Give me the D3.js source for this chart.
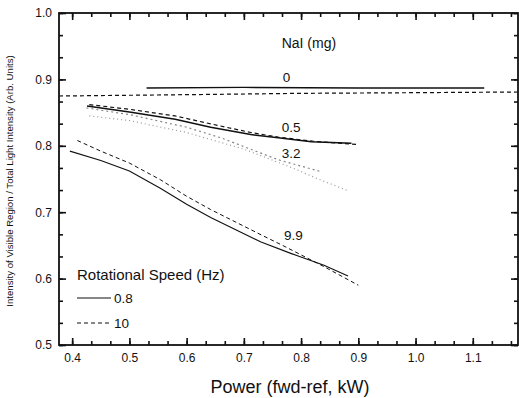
<!DOCTYPE html>
<html>
<head>
<meta charset="utf-8">
<script src="https://cdn.jsdelivr.net/npm/d3@7"></script>
<style>
  body { margin: 0; background: #fff; }
  text { font-family: "Liberation Sans", Arial, sans-serif; fill: #111; }
</style>
</head>
<body>
<svg id="chart" width="519" height="398"></svg>
<script>
// data: [power kW, intensity ratio]
const naI0_slow = [[0.53, 0.887], [0.7, 0.888], [0.9, 0.887], [1.12, 0.887]];
const naI0_fast = [[0.377, 0.875], [0.6, 0.877], [0.8, 0.879], [1.0, 0.880], [1.179, 0.881]];
const naI05_slow = [[0.426, 0.860], [0.5, 0.851], [0.58, 0.840], [0.642, 0.828], [0.712, 0.817], [0.76, 0.812], [0.818, 0.806], [0.888, 0.804]];
const naI05_fast = [[0.43, 0.862], [0.5, 0.855], [0.58, 0.845], [0.642, 0.833], [0.712, 0.820], [0.76, 0.813], [0.82, 0.807], [0.896, 0.802]];
const naI32_slow = [[0.43, 0.845], [0.5, 0.838], [0.6, 0.820], [0.7, 0.795], [0.79, 0.765], [0.83, 0.750], [0.88, 0.733]];
const naI32_fast = [[0.425, 0.857], [0.5, 0.847], [0.6, 0.828], [0.66, 0.812], [0.76, 0.779], [0.835, 0.761]];
const naI99_slow = [[0.396, 0.792], [0.45, 0.778], [0.5, 0.762], [0.554, 0.736], [0.6, 0.712], [0.642, 0.692], [0.73, 0.655], [0.782, 0.638], [0.84, 0.620], [0.882, 0.604]];
const naI99_fast = [[0.409, 0.808], [0.45, 0.792], [0.5, 0.774], [0.554, 0.749], [0.6, 0.724], [0.642, 0.704], [0.73, 0.666], [0.77, 0.649], [0.84, 0.618], [0.9, 0.590]];

const xMajor = [0.4, 0.5, 0.6, 0.7, 0.8, 0.9, 1.0, 1.1];
const yMajor = [0.5, 0.6, 0.7, 0.8, 0.9, 1.0];
const curveLabels = ['0', '0.5', '3.2', '9.9'];
const speeds = ['0.8', '10'];

const svg = d3.select('#chart');
const plotL = 59, plotR = 518, plotT = 13, plotB = 345;

const x = d3.scaleLinear().domain([0.377, 1.179]).range([plotL, plotR]);
const y = d3.scaleLinear().domain([0.5, 1.0]).range([plotB, plotT]);

// minor ticks every 1/30
const xMinor = d3.range(12, 36).map(i => i / 30).filter(v => v > 0.378 && v < 1.178);
const yMinor = d3.range(15, 31).map(i => i / 30);

function styleAxis(g) {
  g.select('.domain').remove();
  g.selectAll('line').attr('stroke', '#111').attr('stroke-width', 1.6);
  g.selectAll('text').attr('font-size', 12);
}

// bottom
svg.append('g').attr('transform', `translate(0,${plotB})`)
  .call(d3.axisBottom(x).tickValues(xMinor).tickSize(-4).tickFormat(''))
  .call(styleAxis);
svg.append('g').attr('transform', `translate(0,${plotB})`)
  .call(d3.axisBottom(x).tickValues(xMajor).tickSize(-7).tickPadding(8).tickFormat(d3.format('.1f')))
  .call(styleAxis);
// top
svg.append('g').attr('transform', `translate(0,${plotT})`)
  .call(d3.axisTop(x).tickValues(xMinor).tickSize(-4).tickFormat(''))
  .call(styleAxis);
svg.append('g').attr('transform', `translate(0,${plotT})`)
  .call(d3.axisTop(x).tickValues(xMajor).tickSize(-7).tickFormat(''))
  .call(styleAxis);
// left
svg.append('g').attr('transform', `translate(${plotL},0)`)
  .call(d3.axisLeft(y).tickValues(yMinor).tickSize(-4).tickFormat(''))
  .call(styleAxis);
svg.append('g').attr('transform', `translate(${plotL},0)`)
  .call(d3.axisLeft(y).tickValues(yMajor).tickSize(-7).tickPadding(7).tickFormat(d3.format('.1f')))
  .call(styleAxis);
// right
svg.append('g').attr('transform', `translate(${plotR},0)`)
  .call(d3.axisRight(y).tickValues(yMinor).tickSize(-4).tickFormat(''))
  .call(styleAxis);
svg.append('g').attr('transform', `translate(${plotR},0)`)
  .call(d3.axisRight(y).tickValues(yMajor).tickSize(-7).tickFormat(''))
  .call(styleAxis);

// frame
svg.append('rect')
  .attr('x', plotL).attr('y', plotT)
  .attr('width', plotR - plotL).attr('height', plotB - plotT)
  .attr('fill', 'none').attr('stroke', '#111').attr('stroke-width', 1.8);

const line = d3.line().x(d => x(d[0])).y(d => y(d[1]));

const series = [
  { data: naI0_slow, dash: null, color: '#111', w: 1.4 },
  { data: naI0_fast, dash: '4,3', color: '#111', w: 1.2 },
  { data: naI05_slow, dash: null, color: '#111', w: 1.5 },
  { data: naI05_fast, dash: '4,3', color: '#111', w: 1.2 },
  { data: naI32_slow, dash: '1,3', color: '#999', w: 1.2 },
  { data: naI32_fast, dash: '2,3', color: '#888', w: 1.2 },
  { data: naI99_slow, dash: null, color: '#111', w: 1.1 },
  { data: naI99_fast, dash: '4,3', color: '#111', w: 1 }
];

svg.append('g').selectAll('path')
  .data(series)
  .enter()
  .append('path')
  .attr('d', d => line(d.data))
  .attr('fill', 'none')
  .attr('stroke', d => d.color)
  .attr('stroke-width', d => d.w)
  .attr('stroke-dasharray', d => d.dash);

// NaI labels
svg.append('text').attr('x', x(0.766)).attr('y', y(0.947)).attr('font-size', 14).text('NaI (mg)');
const labelPos = [[0.768, 0.896], [0.766, 0.821], [0.766, 0.782], [0.77, 0.658]];
svg.append('g').selectAll('text')
  .data(curveLabels)
  .enter()
  .append('text')
  .attr('x', (d, i) => x(labelPos[i][0]))
  .attr('y', (d, i) => y(labelPos[i][1]))
  .attr('font-size', 13.5)
  .text(d => d);

// legend
svg.append('text').attr('x', 77).attr('y', 280).attr('font-size', 15).text('Rotational Speed (Hz)');
const legend = svg.append('g').selectAll('g')
  .data(speeds)
  .enter()
  .append('g')
  .attr('transform', (d, i) => `translate(77,${298 + i * 25})`);
legend.append('line')
  .attr('x1', 0).attr('x2', 34).attr('y1', 0).attr('y2', 0)
  .attr('stroke', '#111').attr('stroke-width', 1.2)
  .attr('stroke-dasharray', (d, i) => i ? '4,3' : null);
legend.append('text').attr('x', 37).attr('y', 5).attr('font-size', 13.5).text(d => d);

// axis titles
svg.append('text')
  .attr('x', 290).attr('y', 393)
  .attr('text-anchor', 'middle').attr('font-size', 18)
  .text('Power (fwd-ref, kW)');
svg.append('text')
  .attr('transform', `translate(13,${(plotT + plotB) / 2 + 2}) rotate(-90)`)
  .attr('text-anchor', 'middle').attr('font-size', 9.6)
  .text('Intensity of Visible Region  /  Total Light Intensity (Arb. Units)');
</script>
</body>
</html>
